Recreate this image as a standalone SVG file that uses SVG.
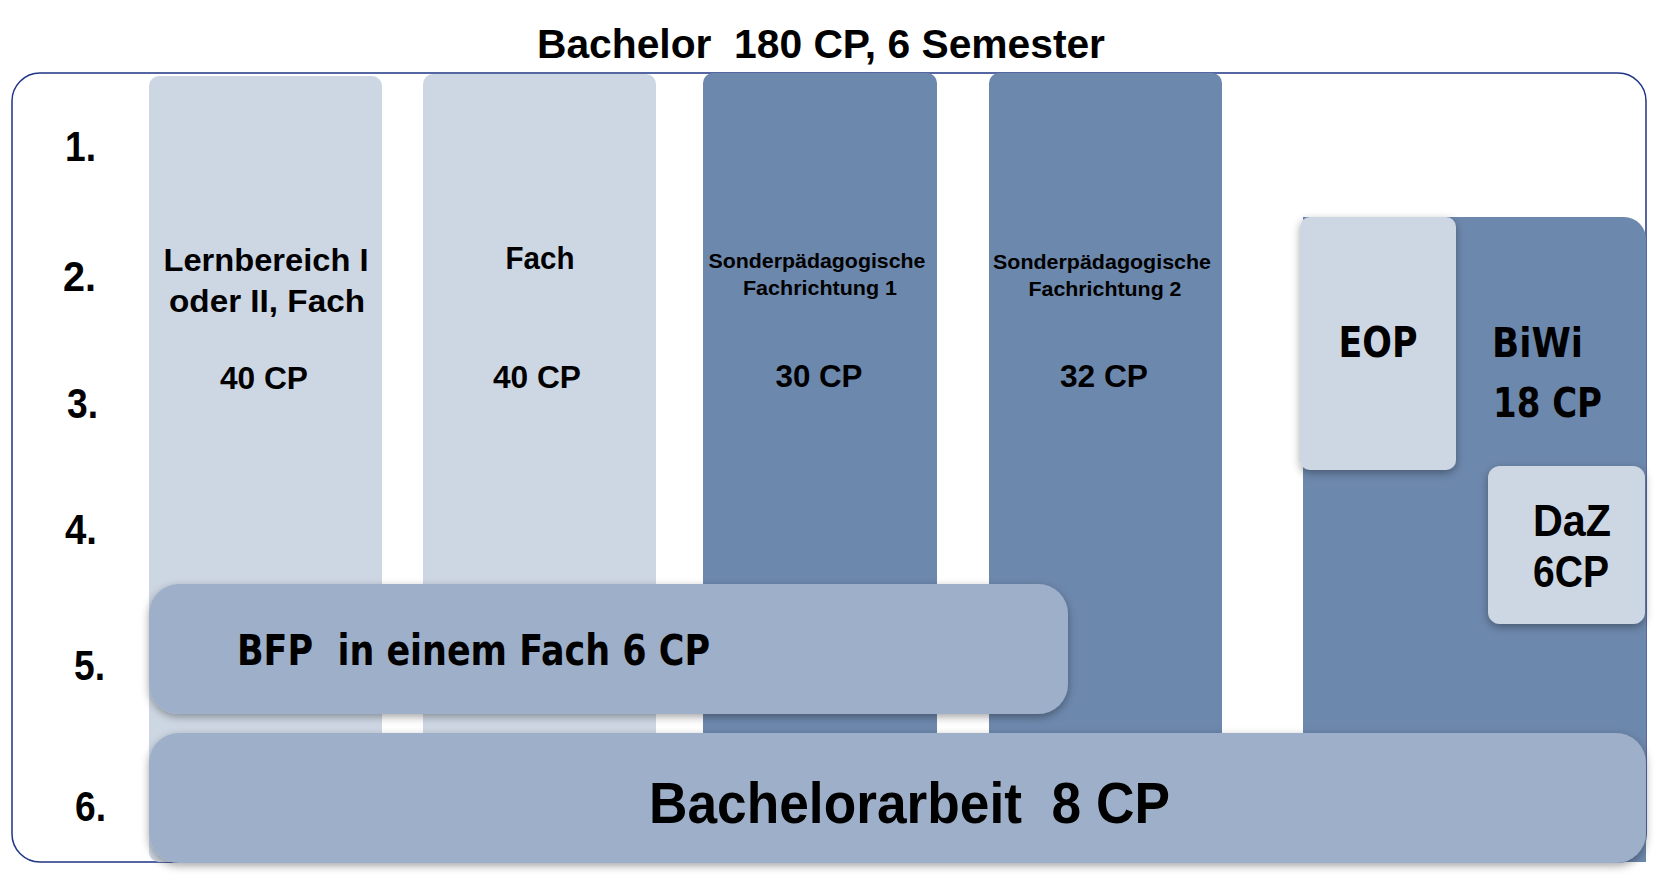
<svg xmlns="http://www.w3.org/2000/svg" width="1678" height="878" viewBox="0 0 1678 878">
<defs>
<style>
.light{fill:#cdd7e3}
.dark{fill:#6d88ad}
.bar{fill:#9eb0c9}
.m{font-family:"Liberation Sans",Arial,sans-serif;font-weight:bold;fill:#000}
.l{font-family:"DejaVu Sans","Liberation Sans",sans-serif;font-weight:bold;fill:#000}
.c{text-anchor:middle}
.num{font-size:42px}
</style>
<filter id="sh" x="-10%" y="-20%" width="120%" height="150%">
<feDropShadow dx="0" dy="3" stdDeviation="4" flood-color="#000" flood-opacity="0.35"/>
</filter>
</defs>
<rect width="1678" height="878" fill="#fff"/>
<g id="title">
<text class="m" x="537" y="58" font-size="40" textLength="568" lengthAdjust="spacingAndGlyphs" xml:space="preserve">Bachelor  180 CP, 6 Semester</text>
</g>
<g id="frame">
<rect x="12" y="73" width="1634" height="789" rx="28" ry="28" fill="#fff" stroke="#1f3585" stroke-width="1.5"/>
</g>
<g id="semesters">
<text class="m num" x="65" y="161" textLength="31" lengthAdjust="spacingAndGlyphs">1.</text>
<text class="m num" x="63" y="291" textLength="33" lengthAdjust="spacingAndGlyphs">2.</text>
<text class="m num" x="67" y="418" textLength="31" lengthAdjust="spacingAndGlyphs">3.</text>
<text class="m num" x="65" y="544" textLength="32" lengthAdjust="spacingAndGlyphs">4.</text>
<text class="m num" x="74" y="680" textLength="31" lengthAdjust="spacingAndGlyphs">5.</text>
<text class="m num" x="75" y="821" textLength="31" lengthAdjust="spacingAndGlyphs">6.</text>
</g>
<g id="lernbereich">
<rect class="light" x="149" y="76" width="233" height="786" rx="10"/>
<text class="m c" x="266" y="271" font-size="31" textLength="205" lengthAdjust="spacingAndGlyphs">Lernbereich I</text>
<text class="m c" x="267" y="312" font-size="31" textLength="196" lengthAdjust="spacingAndGlyphs">oder II, Fach</text>
<text class="m c" x="264" y="389" font-size="31" textLength="88" lengthAdjust="spacingAndGlyphs">40 CP</text>
</g>
<g id="fach">
<rect class="light" x="423" y="74" width="233" height="788" rx="10"/>
<text class="m c" x="540" y="269" font-size="31" textLength="69" lengthAdjust="spacingAndGlyphs">Fach</text>
<text class="m c" x="537" y="388" font-size="31" textLength="88" lengthAdjust="spacingAndGlyphs">40 CP</text>
</g>
<g id="sonder1">
<rect class="dark" x="703" y="73" width="234" height="789" rx="10"/>
<text class="m c" x="817" y="268" font-size="21" textLength="217" lengthAdjust="spacingAndGlyphs">Sonderpädagogische</text>
<text class="m c" x="820" y="295" font-size="21" textLength="154" lengthAdjust="spacingAndGlyphs">Fachrichtung 1</text>
<text class="m c" x="819" y="387" font-size="31" textLength="87" lengthAdjust="spacingAndGlyphs">30 CP</text>
</g>
<g id="sonder2">
<rect class="dark" x="989" y="73" width="233" height="789" rx="10"/>
<text class="m c" x="1102" y="269" font-size="21" textLength="218" lengthAdjust="spacingAndGlyphs">Sonderpädagogische</text>
<text class="m c" x="1105" y="296" font-size="21" textLength="153" lengthAdjust="spacingAndGlyphs">Fachrichtung 2</text>
<text class="m c" x="1104" y="387" font-size="31" textLength="88" lengthAdjust="spacingAndGlyphs">32 CP</text>
</g>
<g id="biwi">
<path class="dark" d="M1303 217 H1624 A22 22 0 0 1 1646 239 V862 H1303 Z"/>
<text class="l" x="1492" y="357" font-size="41" textLength="91" lengthAdjust="spacingAndGlyphs">BiWi</text>
<text class="l" x="1493" y="417" font-size="41" font-weight="normal" textLength="109" lengthAdjust="spacingAndGlyphs">18 CP</text>
</g>
<g id="eop">
<rect class="light" x="1300" y="217" width="156" height="253" rx="10" filter="url(#sh)"/>
<text class="l c" x="1378" y="357" font-size="42" textLength="79" lengthAdjust="spacingAndGlyphs">EOP</text>
</g>
<g id="daz">
<rect class="light" x="1488" y="466" width="157" height="158" rx="12" filter="url(#sh)"/>
<text class="m c" x="1572" y="536" font-size="44" textLength="78" lengthAdjust="spacingAndGlyphs">DaZ</text>
<text class="m c" x="1571" y="587" font-size="44" textLength="76" lengthAdjust="spacingAndGlyphs">6CP</text>
</g>
<g id="bfp">
<rect class="bar" x="149" y="584" width="919" height="130" rx="30" filter="url(#sh)"/>
<text class="l" x="237" y="665" font-size="42" textLength="473" lengthAdjust="spacingAndGlyphs" xml:space="preserve">BFP  in einem Fach 6 CP</text>
</g>
<g id="bachelorarbeit">
<rect class="bar" x="149" y="733" width="1497" height="130" rx="30" filter="url(#sh)"/>
<text class="m" x="649" y="823" font-size="58" textLength="521" lengthAdjust="spacingAndGlyphs" xml:space="preserve">Bachelorarbeit  8 CP</text>
</g>
<g id="connectors"/>
</svg>
